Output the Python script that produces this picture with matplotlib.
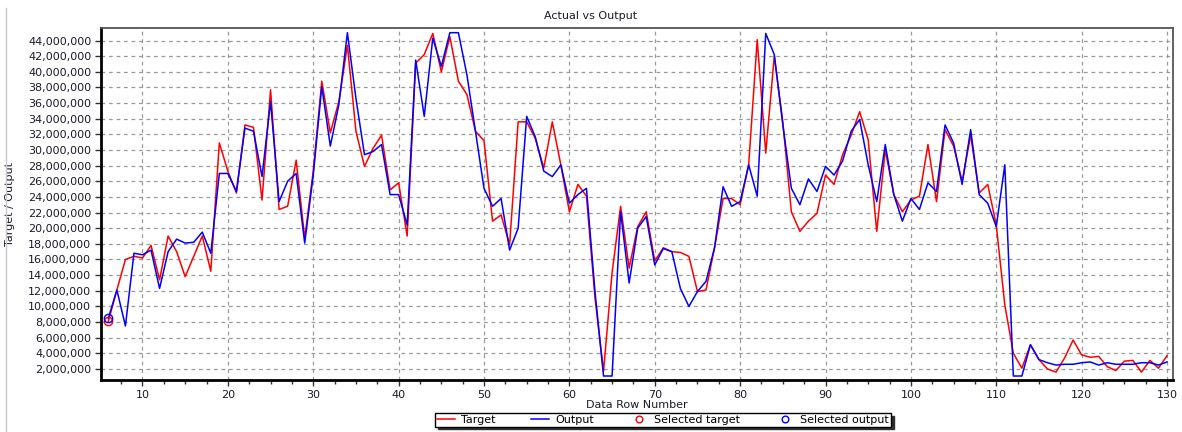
import matplotlib
matplotlib.use("Agg")
import matplotlib.pyplot as plt
from matplotlib.lines import Line2D
from matplotlib.ticker import FuncFormatter, MultipleLocator

# data row numbers 6..130, values in millions
rows = list(range(6, 131))
target = [8.1, 12.1, 16.0, 16.4, 16.2, 17.8, 13.4, 19.0, 17.0, 13.8,
          16.4, 19.0, 14.5, 30.9, 27.3, 24.5, 33.2, 32.9, 23.6, 37.7,
          22.4, 22.8, 28.7, 18.7, 27.3, 38.8, 32.2, 36.2, 43.4, 32.4,
          27.9, 30.2, 31.9, 24.9, 25.8, 19.0, 41.1, 42.2, 44.9, 40.0,
          44.5, 38.8, 37.1, 32.4, 31.2, 20.9, 21.7, 17.9, 33.6, 33.6,
          31.5, 27.7, 33.6, 28.1, 22.1, 25.6, 24.1, 11.1, 1.7, 14.3,
          22.8, 14.9, 20.2, 22.1, 15.8, 17.5, 17.0, 16.9, 16.4, 11.9,
          12.1, 17.5, 23.8, 23.8, 23.0, 28.1, 44.1, 29.6, 42.0, 33.6,
          22.1, 19.6, 20.9, 21.9, 26.8, 25.6, 29.4, 31.9, 34.9, 31.3,
          19.6, 30.0, 24.3, 22.1, 23.6, 24.1, 30.7, 23.4, 32.6, 30.5,
          26.0, 31.9, 24.5, 25.6, 20.4, 10.2, 4.0, 2.1, 5.1, 3.2,
          2.0, 1.6, 3.4, 5.7, 3.8, 3.5, 3.6, 2.3, 1.8, 3.0,
          3.1, 1.6, 3.1, 2.1, 3.7]
output = [8.5, 12.1, 7.5, 16.8, 16.6, 17.2, 12.3, 17.0, 18.6, 18.1,
          18.2, 19.5, 16.8, 27.0, 27.0, 24.7, 32.8, 32.4, 26.6, 36.2,
          23.4, 26.0, 27.0, 18.1, 26.8, 38.1, 30.5, 35.8, 45.0, 36.6,
          29.4, 29.8, 30.7, 24.3, 24.3, 20.4, 41.5, 34.3, 44.3, 40.7,
          45.0, 45.0, 39.6, 32.4, 25.1, 22.8, 23.8, 17.2, 20.0, 34.3,
          31.7, 27.3, 26.6, 28.1, 23.2, 24.3, 25.1, 11.9, 1.1, 1.1,
          22.1, 13.0, 20.0, 21.5, 15.3, 17.4, 17.0, 12.3, 10.0, 11.9,
          13.2, 17.5, 25.3, 22.8, 23.4, 28.1, 24.1, 44.9, 42.2, 33.2,
          25.1, 23.0, 26.3, 24.7, 27.9, 26.8, 28.6, 32.4, 33.9, 28.1,
          23.4, 30.7, 24.3, 20.9, 23.8, 22.4, 25.8, 24.7, 33.2, 30.9,
          25.6, 32.6, 24.3, 23.2, 20.2, 28.1, 1.1, 1.1, 5.1, 3.2,
          2.8, 2.5, 2.6, 2.6, 2.8, 2.9, 2.5, 2.8, 2.6, 2.6,
          2.6, 2.8, 2.8, 2.5, 2.9]
target = [v * 1e6 for v in target]
output = [v * 1e6 for v in output]

plt.rcParams['font.family'] = ['DejaVu Sans']
plt.rcParams['font.size'] = 8

fig = plt.figure(figsize=(11.82, 4.32), dpi=100)
ax = fig.add_axes([101/1182, 1-380/432, 1072/1182, 352/432])

ax.plot(rows, target, color='#ff0000', lw=1.1, label='Target')
ax.plot(rows, output, color='#0000ff', lw=1.1, label='Output')
ax.plot(rows[:1], target[:1], 'o', ms=6, mfc='none', mec='#ff0000', mew=1, label='Selected target')
ax.plot(rows[:1], output[:1], 'o', ms=6, mfc='none', mec='#0000ff', mew=1, label='Selected output')

ax.set_xlim(5.14, 130.7)
ax.set_ylim(0.59e6, 45.6e6)
ax.xaxis.set_major_locator(MultipleLocator(10))
ax.xaxis.set_minor_locator(MultipleLocator(2.5))
ax.yaxis.set_major_locator(MultipleLocator(2e6))
ax.yaxis.set_major_formatter(FuncFormatter(lambda v, p: f"{int(round(v)):,}" if v > 0 else ""))
ax.tick_params(axis='both', which='major', length=4, width=1, colors='#333333', labelcolor='#1a1a2a', labelsize=8, pad=3)
ax.tick_params(axis='x', which='minor', length=3, width=1, colors='#333333')

ax.grid(True, which='major', linestyle=(0, (3, 3)), color='#9a9a9a', lw=0.9)

for side in ['left', 'bottom']:
    ax.spines[side].set_linewidth(2)
    ax.spines[side].set_color('black')
for side in ['top', 'right']:
    ax.spines[side].set_linewidth(1.3)
    ax.spines[side].set_color('#555555')

ax.set_xlabel('Data Row Number', fontsize=8, labelpad=0, color='#1a1a2a')
ax.set_ylabel('Target / Output', fontsize=8, color='#1a1a2a')
ax.yaxis.set_label_coords(-0.080, 0.5)

fig.text(0.5, 1-16/432, 'Actual vs Output', ha='center', va='center', fontsize=8, color='#1a1a2a')

leg = fig.legend(loc='center', bbox_to_anchor=(663/1182, 1-420/432), ncol=4, frameon=True,
                 fancybox=False, shadow={'color': '#303030', 'alpha': 1.0}, edgecolor='black',
                 fontsize=8, handlelength=1.6, handletextpad=0.6, columnspacing=3.2,
                 borderpad=0.15, borderaxespad=0, markerscale=0.8)
leg.get_frame().set_linewidth(1)

# left border line of the chart panel
fig.add_artist(Line2D([6/1182, 6/1182], [0, 1-8/432], color='#c8c8c8', lw=1))

fig.savefig('out.png', dpi=100)
